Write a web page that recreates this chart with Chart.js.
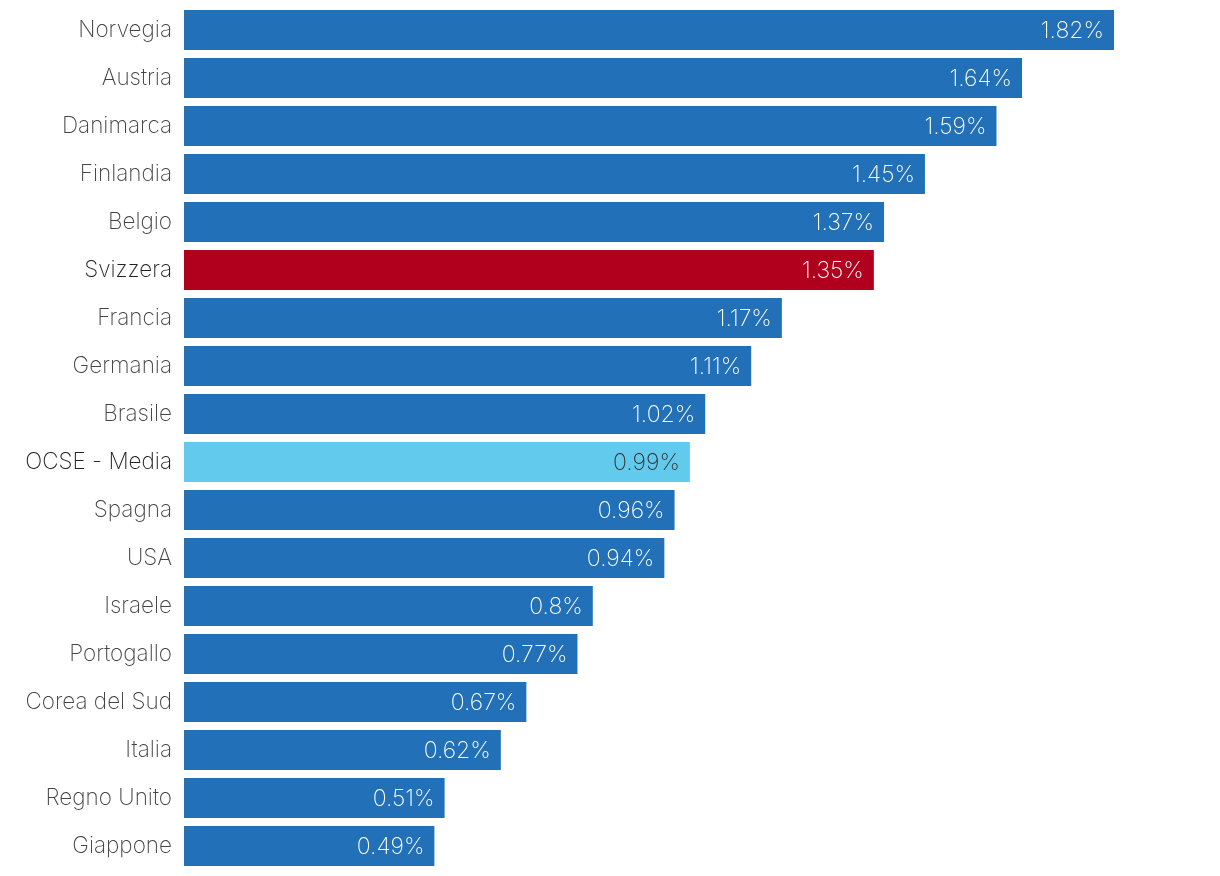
<!DOCTYPE html>
<html>
<head>
<meta charset="utf-8">
<script src="https://cdn.jsdelivr.net/npm/chart.js@4/dist/chart.umd.min.js"></script>
<style>
  html, body { margin: 0; padding: 0; background: #fff; }
  #wrap { width: 1220px; height: 876px; position: relative; }
</style>
</head>
<body>
<div id="wrap"><canvas id="chart"></canvas></div>
<script>
// Dati
const paesi = ['Norvegia', 'Austria', 'Danimarca', 'Finlandia', 'Belgio', 'Svizzera', 'Francia', 'Germania', 'Brasile',
  'OCSE - Media', 'Spagna', 'USA', 'Israele', 'Portogallo', 'Corea del Sud', 'Italia', 'Regno Unito', 'Giappone'];
const valori = [1.82, 1.64, 1.59, 1.45, 1.37, 1.35, 1.17, 1.11, 1.02, 0.99, 0.96, 0.94, 0.8, 0.77, 0.67, 0.62, 0.51, 0.49];
const evidenziati = { 'Svizzera': '#b0001e', 'OCSE - Media': '#62cbed' };

const BLU = '#2170b8';
const FONT = 'Inter, "Noto Sans", sans-serif';

const colori = paesi.map(p => evidenziati[p] || BLU);

const etichetteValori = {
  id: 'etichetteValori',
  afterDatasetsDraw(chart) {
    const ctx = chart.ctx;
    const meta = chart.getDatasetMeta(0);
    ctx.save();
    ctx.font = '200 23px ' + FONT;
    ctx.textAlign = 'right';
    ctx.textBaseline = 'middle';
    meta.data.forEach((bar, i) => {
      ctx.fillStyle = paesi[i] === 'OCSE - Media' ? '#333' : '#fff';
      ctx.fillText(valori[i] + '%', bar.x - 10, bar.y + 1);
    });
    ctx.restore();
  }
};

new Chart(document.getElementById('chart'), {
  type: 'bar',
  data: {
    labels: paesi,
    datasets: [{
      data: valori,
      backgroundColor: colori,
      categoryPercentage: 1,
      barPercentage: 40 / 48
    }]
  },
  options: {
    indexAxis: 'y',
    responsive: true,
    maintainAspectRatio: false,
    animation: false,
    layout: { padding: { left: 0, right: 14, top: 6, bottom: 6 } },
    plugins: {
      legend: { display: false },
      tooltip: { enabled: false }
    },
    scales: {
      x: {
        min: 0,
        max: 2,
        display: false
      },
      y: {
        grid: { display: false, drawTicks: false },
        border: { display: false },
        afterFit: (scale) => {
          scale.width = 184;
          scale.paddingTop = 0;
          scale.paddingBottom = 0;
        },
        ticks: {
          padding: 12,
          font: { family: FONT, size: 22.5, weight: '200' },
          color: (c) => evidenziati[paesi[c.index]] ? '#222' : '#444'
        }
      }
    }
  },
  plugins: [etichetteValori]
});
</script>
</body>
</html>
